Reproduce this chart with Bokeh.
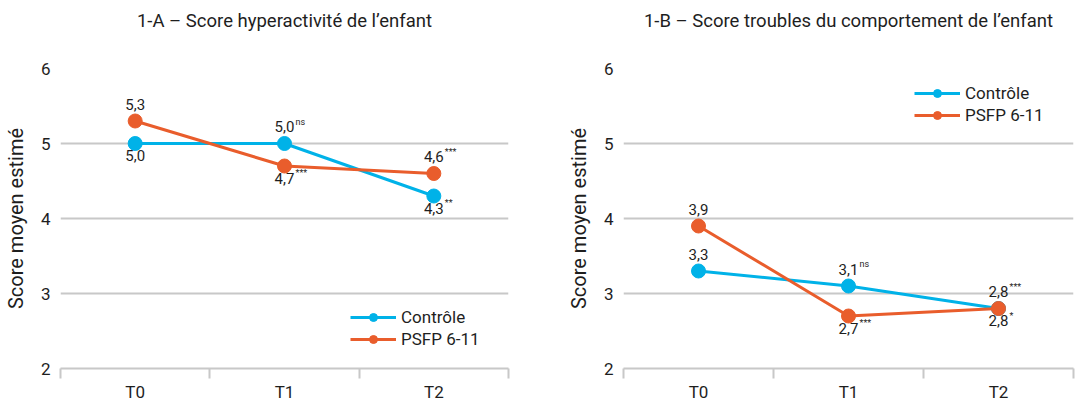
from bokeh.plotting import figure
from bokeh.layouts import row
from bokeh.models import Range1d, FixedTicker, ColumnDataSource, Legend, LegendItem, Title
from bokeh.core.properties import value
from bokeh.embed import file_html
from bokeh.resources import INLINE

# ---------------- data ----------------
periods = ["T0", "T1", "T2"]
series_names = ["Contrôle", "PSFP 6-11"]

title_a = "1-A – Score hyperactivité de l’enfant"
ctrl_a = [5.0, 5.0, 4.3]
psfp_a = [5.3, 4.7, 4.6]
ctrl_a_sig = ["", "ns", "**"]
psfp_a_sig = ["", "***", "***"]

title_b = "1-B – Score troubles du comportement de l’enfant"
ctrl_b = [3.3, 3.1, 2.8]
psfp_b = [3.9, 2.7, 2.8]
ctrl_b_sig = ["", "ns", "*"]
psfp_b_sig = ["", "***", "***"]

y_ticks = [2, 3, 4, 5, 6]
y_label = "Score moyen estimé"

# ---------------- style ----------------
BLUE = "#00b2e8"
ORANGE = "#e95d2c"
GRID = "#c8c8c8"
TXT = "#1e1e1e"
FONT = "Roboto"


def fmt(v):
    return f"{v:.1f}".replace(".", ",")


def make_panel(title, ctrl, psfp, ctrl_sig, psfp_sig, ctrl_pos, psfp_pos,
               legend_loc, frame_w, min_left, min_right):
    n = len(periods)
    xs = [i + 0.5 for i in range(n)]
    p = figure(frame_width=frame_w, frame_height=300, output_backend="svg",
               toolbar_location=None,
               x_range=Range1d(0, n), y_range=Range1d(y_ticks[0], y_ticks[-1]),
               min_border_left=min_left, min_border_right=min_right,
               min_border_top=68, min_border_bottom=35)
    p.outline_line_color = None
    p.background_fill_color = "white"
    p.border_fill_color = "white"

    p.title.text = title
    p.title.align = "center"
    p.title.text_font = FONT
    p.title.text_font_style = "normal"
    p.title.text_font_size = "18.5px"
    p.title.text_color = TXT
    p.title.standoff = 0

    # gap between the title and the plot frame
    spacer = Title(text=" ", text_font_size="1px", standoff=34)
    p.add_layout(spacer, "above")

    # y axis
    p.yaxis.ticker = FixedTicker(ticks=y_ticks)
    p.yaxis.axis_line_color = None
    p.yaxis.major_tick_line_color = None
    p.yaxis.minor_tick_line_color = None
    p.yaxis.major_tick_out = 0
    p.yaxis.major_label_text_font = FONT
    p.yaxis.major_label_text_font_size = "17px"
    p.yaxis.major_label_text_color = TXT
    p.yaxis.major_label_standoff = 10
    p.yaxis.axis_label = y_label
    p.yaxis.axis_label_text_font = FONT
    p.yaxis.axis_label_text_font_style = "normal"
    p.yaxis.axis_label_text_font_size = "20px"
    p.yaxis.axis_label_text_color = TXT
    p.yaxis.axis_label_standoff = 10

    # x axis: labels at centres, ticks at boundaries
    p.xaxis.ticker = FixedTicker(ticks=xs, minor_ticks=list(range(n + 1)))
    p.xaxis.major_label_overrides = {x: c for x, c in zip(xs, periods)}
    p.xaxis.axis_line_color = GRID
    p.xaxis.axis_line_width = 2
    p.xaxis.major_tick_line_color = None
    p.xaxis.major_tick_out = 0
    p.xaxis.major_tick_in = 0
    p.xaxis.minor_tick_line_color = GRID
    p.xaxis.minor_tick_line_width = 2
    p.xaxis.minor_tick_out = 0
    p.xaxis.minor_tick_in = -10
    p.xaxis.major_label_text_font = FONT
    p.xaxis.major_label_text_font_size = "17px"
    p.xaxis.major_label_text_color = TXT
    p.xaxis.major_label_standoff = 13

    p.xgrid.grid_line_color = None
    p.ygrid.ticker = FixedTicker(ticks=y_ticks[1:])
    p.ygrid.grid_line_color = GRID
    p.ygrid.grid_line_width = 2

    items = []
    for vals, sig, pos, col, name in [(ctrl, ctrl_sig, ctrl_pos, BLUE, series_names[0]),
                                      (psfp, psfp_sig, psfp_pos, ORANGE, series_names[1])]:
        src = ColumnDataSource(dict(x=xs, y=vals))
        l = p.line("x", "y", source=src, line_color=col, line_width=3)
        c = p.scatter("x", "y", source=src, size=14, fill_color=col, line_color=col)
        items.append(LegendItem(label=name, renderers=[l, c]))
        for x, v, s, ps in zip(xs, vals, sig, pos):
            yo = -17 if ps == "above" else 12
            p.text(x=[x], y=[v], text=[fmt(v)], text_align="center",
                   text_baseline="alphabetic", y_offset=yo, text_font=value(FONT),
                   text_font_size="15px", text_color=TXT)
            if s:
                p.text(x=[x], y=[v], text=[s], text_align="left",
                       text_baseline="alphabetic", x_offset=11, y_offset=yo - 5,
                       text_font=value(FONT), text_font_size="9px", text_color=TXT)

    leg = Legend(items=items, location=legend_loc)
    leg.background_fill_alpha = 0
    leg.border_line_color = None
    leg.label_text_font = FONT
    leg.label_text_font_size = "17px"
    leg.label_text_color = TXT
    leg.glyph_width = 46
    leg.glyph_height = 20
    leg.spacing = 2
    leg.label_standoff = 5
    leg.label_height = 20
    leg.padding = 0
    leg.margin = 0
    p.add_layout(leg)
    return p


pA = make_panel(title_a, ctrl_a, psfp_a, ctrl_a_sig, psfp_a_sig,
                ["below", "above", "below"], ["above", "below", "above"],
                (290, 19), frame_w=448, min_left=58, min_right=55)
pB = make_panel(title_b, ctrl_b, psfp_b, ctrl_b_sig, psfp_b_sig,
                ["above", "above", "below"], ["above", "below", "above"],
                (291, 243), frame_w=450, min_left=55, min_right=3)

layout = row(pA, pB, spacing=0)
open("out.html", "w").write(file_html(layout, INLINE))
